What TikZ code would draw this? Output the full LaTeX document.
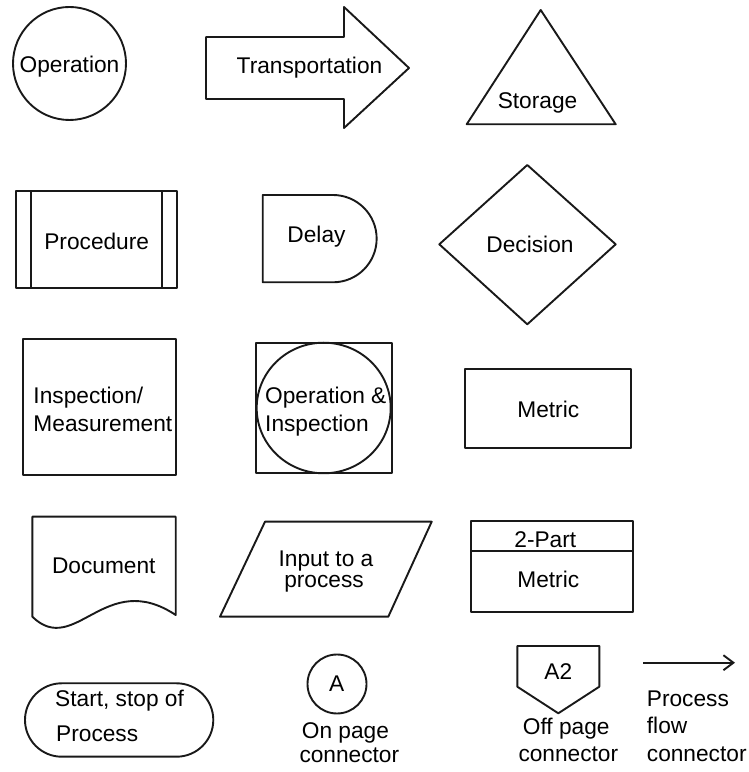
\documentclass[tikz,border=0pt]{standalone}
\usepackage{fontspec}
\setmainfont{Liberation Sans}
\usetikzlibrary{arrows.meta}
\begin{document}
\begin{tikzpicture}[x=1pt,y=1pt,
  outline/.style={draw=black!90, line width=1.9pt, line join=round},
  lbl/.style={inner sep=0pt, anchor=base, font=\fontsize{22.7pt}{27pt}\selectfont},
  lblw/.style={lbl, anchor=base west},
  flow/.style={outline, -{Straight Barb[length=10pt,width=15pt,line width=1.9pt]}}]
\useasboundingbox (0,0) rectangle (749,772);

% row 1: operation, transportation, storage
\draw[outline] (69.5,708.5) circle[radius=56.5];
\node[lbl] (operation) at (69.5,699) {Operation};

\draw[outline] (206,735) -- (344,735) -- (344,765) -- (409,704) -- (344,644)
  -- (344,673) -- (206,673) -- cycle;
\node[lbl] (transport) at (309.5,698) {Transportation};

\draw[outline] (540.7,762) -- (615.7,647.7) -- (466.7,647.7) -- cycle;
\node[lbl] (storage) at (537.5,663) {Storage};

% row 2: procedure, delay, decision
\draw[outline] (16,484.3) rectangle (176.7,581.3);
\draw[outline] (31,484.3) -- (31,581.3);
\draw[outline] (161.7,484.3) -- (161.7,581.3);
\node[lbl] (procedure) at (96.7,522.7) {Procedure};

\draw[outline] (262.7,577) -- (333,577) arc[start angle=90, end angle=-90, radius=43.65]
  -- (262.7,489.7) -- cycle;
\node[lbl] (delay) at (316.5,529) {Delay};

\draw[outline] (527.3,607) -- (615.7,527.7) -- (527.3,447.7) -- (439.3,527.7) -- cycle;
\node[lbl] (decision) at (530,519.3) {Decision};

% row 3: inspection, operation & inspection, metric
\draw[outline] (23.3,297) rectangle (175.7,432.7);
\node[lblw] (insp1) at (33.3,368) {Inspection/};
\node[lblw] (insp2) at (33.3,340.3) {Measurement};

\draw[outline] (255.7,298.7) rectangle (391.7,429.3);
\draw[outline] (323.7,364) ellipse[x radius=67, y radius=65.3];
\node[lblw] (opinsp1) at (265,368) {Operation \&};
\node[lblw] (opinsp2) at (265,340) {Inspection};

\draw[outline] (465,323.7) rectangle (630.7,402.7);
\node[lbl] (metric) at (548.3,354.3) {Metric};

% row 4: document, input, two-part metric
\draw[outline] (32.3,155.3) -- (32.3,255.3) -- (175.7,255.3) -- (175.7,157)
  .. controls (105,204) and (75,114) .. (32.3,155.3) -- cycle;
\node[lbl] (document) at (103.8,198.7) {Document};

\draw[outline] (265,250.3) -- (431.7,250.3) -- (388.3,155.3) -- (220,155.3) -- cycle;
\node[lbl] (input1) at (326,205.5) {Input to a};
\node[lbl] (input2) at (324,184.5) {process};

\draw[outline] (470.7,160.3) rectangle (632.7,251.3);
\draw[outline] (470.7,221) -- (632.7,221);
\node[lbl] (twopart) at (545.3,224.3) {2-Part};
\node[lbl] (metric2) at (548.3,184.7) {Metric};

% row 5: terminal, connectors, flow line
\draw[outline, rounded corners=36.7] (25,15.3) rectangle (213.3,88.7);
\node[lblw] (start1) at (55,65.3) {Start, stop of};
\node[lblw] (start2) at (56,30.3) {Process};

\draw[outline] (337,88) circle[radius=29.5];
\node[lbl] (conA) at (336.7,80.3) {A};
\node[lblw] (onpage1) at (301.7,34) {On page};
\node[lblw] (onpage2) at (299.3,9.8) {connector};

\draw[outline] (517.3,126) -- (599.3,126) -- (599.3,85.3) -- (558.3,58.7) -- (517.3,85.3) -- cycle;
\node[lbl] (conA2) at (558.3,92) {A2};
\node[lblw] (offpage1) at (522.7,37) {Off page};
\node[lblw] (offpage2) at (518.3,10.3) {connector};

\coordinate (flowstart) at (643.3,109.3);
\coordinate (flowend) at (735,109.3);
\draw[flow] (flowstart) -- (flowend);
\node[lblw] (flow1) at (646.7,65.3) {Process};
\node[lblw] (flow2) at (646.7,38) {flow};
\node[lblw] (flow3) at (646.7,10.3) {connector};
\end{tikzpicture}
\end{document}
